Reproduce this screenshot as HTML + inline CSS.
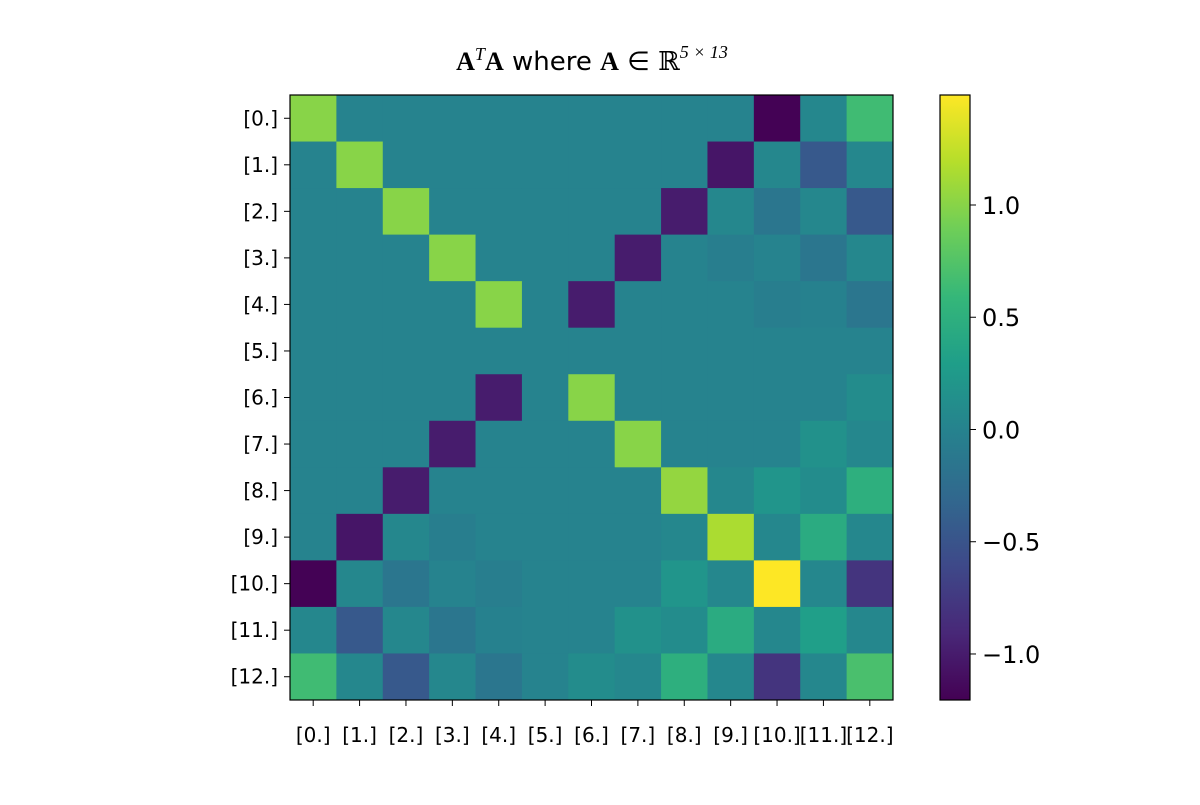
<!DOCTYPE html>
<html><head><meta charset="utf-8"><style>
body{margin:0;background:#fff;width:1200px;height:800px;overflow:hidden}
svg{font-family:"DejaVu Sans","Liberation Sans",sans-serif}
</style></head><body>
<svg id="chart" width="1200" height="800">
<text x="592" y="70" text-anchor="middle" font-size="26"><tspan font-family="Liberation Serif,serif" font-weight="bold">A</tspan><tspan font-family="Liberation Serif,serif" font-style="italic" font-size="18" dy="-10">T</tspan><tspan font-family="Liberation Serif,serif" font-weight="bold" dy="10">A</tspan> where <tspan font-family="Liberation Serif,serif" font-weight="bold">A</tspan> ∈ <tspan font-family="DejaVu Serif,serif">ℝ</tspan><tspan font-family="Liberation Serif,serif" font-style="italic" font-size="18" dy="-12">5 × 13</tspan></text>
<g id="cells"></g>
<rect x="290" y="95" width="603" height="605" fill="none" stroke="#000" stroke-width="1.2"/>
<g id="xl"></g><g id="yl"></g>
<defs><linearGradient id="vg" x1="0" y1="1" x2="0" y2="0"></linearGradient></defs>
<rect x="940" y="95" width="30" height="605" fill="url(#vg)" stroke="#000" stroke-width="1.2"/>
<g id="cb"></g>
</svg>
<script>
const labels=["[0.]","[1.]","[2.]","[3.]","[4.]","[5.]","[6.]","[7.]","[8.]","[9.]","[10.]","[11.]","[12.]"];
const upper=[
[1.0,0,0,0,0,0,0,0,0,0,-1.2,0.05,0.65],
[0,1.0,0,0,0,0,0,0,0,-1.05,0.05,-0.45,0.05],
[0,0,1.0,0,0,0,0,0,-1.0,0.05,-0.15,0.05,-0.45],
[0,0,0,1.0,0,0,0,-1.0,0,-0.05,0,-0.15,0.05],
[0,0,0,0,1.0,0,-1.0,0,0,0,-0.05,-0.02,-0.15],
[0,0,0,0,0,0,0,0,0,0,0,0,0],
[0,0,0,0,-1.0,0,1.0,0,0,0,0,0,0.1],
[0,0,0,-1.0,0,0,0,1.0,0,0,0,0.15,0.05],
[0,0,-1.0,0,0,0,0,0,1.05,0.05,0.2,0.1,0.5],
[0,-1.05,0.05,-0.05,0,0,0,0,0.05,1.15,0.05,0.45,0.05],
[-1.2,0.05,-0.15,0,-0.05,0,0,0,0.2,0.05,1.49,0.05,-0.8],
[0.05,-0.45,0.05,-0.15,-0.02,0,0,0.15,0.1,0.45,0.05,0.3,0.05],
[0.65,0.05,-0.45,0.05,-0.15,0,0.1,0.05,0.5,0.05,-0.8,0.05,0.7]];
const cbTicks=[1.0,0.5,0.0,-0.5,-1.0];
const cbLabels=["1.0","0.5","0.0","\u22120.5","\u22121.0"];
const vmin=-1.205,vmax=1.49;
const vir=["#440154","#482878","#3e4989","#31688e","#26828e","#1f9e89","#35b779","#6ece58","#b5de2b","#fde725"];
function hx(c){return[1,3,5].map(i=>parseInt(c.substr(i,2),16))}
function cmap(t){t=Math.max(0,Math.min(1,t));const p=t*(vir.length-1),i=Math.min(Math.floor(p),vir.length-2),f=p-i;const a=hx(vir[i]),b=hx(vir[i+1]);return`rgb(${a.map((v,k)=>Math.round(v+(b[k]-v)*f)).join(",")})`}
const X0=290,Y0=95,W=603,H=605,n=labels.length,cw=W/n,ch=H/n;
const xs=j=>X0+j*cw, ys=i=>Y0+i*ch;
const cbY=v=>Y0+H-(v-vmin)/(vmax-vmin)*H;
const NS="http://www.w3.org/2000/svg";
const mk=(t,a,p)=>{const e=document.createElementNS(NS,t);for(const k in a)e.setAttribute(k,a[k]);p.appendChild(e);return e};
const cells=document.getElementById('cells');
for(let i=0;i<n;i++)for(let j=0;j<n;j++){
 const r=mk('rect',{x:xs(j),y:ys(i),width:cw+0.5,height:ch+0.5,fill:cmap((upper[i][j]-vmin)/(vmax-vmin))},cells);
 
 
}
const xl=document.getElementById('xl'),yl=document.getElementById('yl');
labels.forEach((l,k)=>{
 mk('line',{x1:xs(k)+cw/2,x2:xs(k)+cw/2,y1:Y0+H,y2:Y0+H+6,stroke:'#000'},xl);
 const t=mk('text',{x:xs(k)+cw/2,y:Y0+H+42,'text-anchor':'middle','font-size':20},xl);t.textContent=l;
 
 
 mk('line',{x1:X0-6,x2:X0,y1:ys(k)+ch/2,y2:ys(k)+ch/2,stroke:'#000'},yl);
 const u=mk('text',{x:X0-12,y:ys(k)+ch/2+7,'text-anchor':'end','font-size':20},yl);u.textContent=l;
 
 
});
const g=document.getElementById('vg');
vir.forEach((c,i)=>mk('stop',{offset:(i/(vir.length-1)*100)+'%','stop-color':c},g));
const cb=document.getElementById('cb');
cbTicks.forEach((v,i)=>{
 mk('line',{x1:970,x2:976,y1:cbY(v),y2:cbY(v),stroke:'#000'},cb);
 const t=mk('text',{x:982,y:cbY(v)+9,'font-size':24},cb);t.textContent=cbLabels[i];
 
 
});
</script>
</body></html>
